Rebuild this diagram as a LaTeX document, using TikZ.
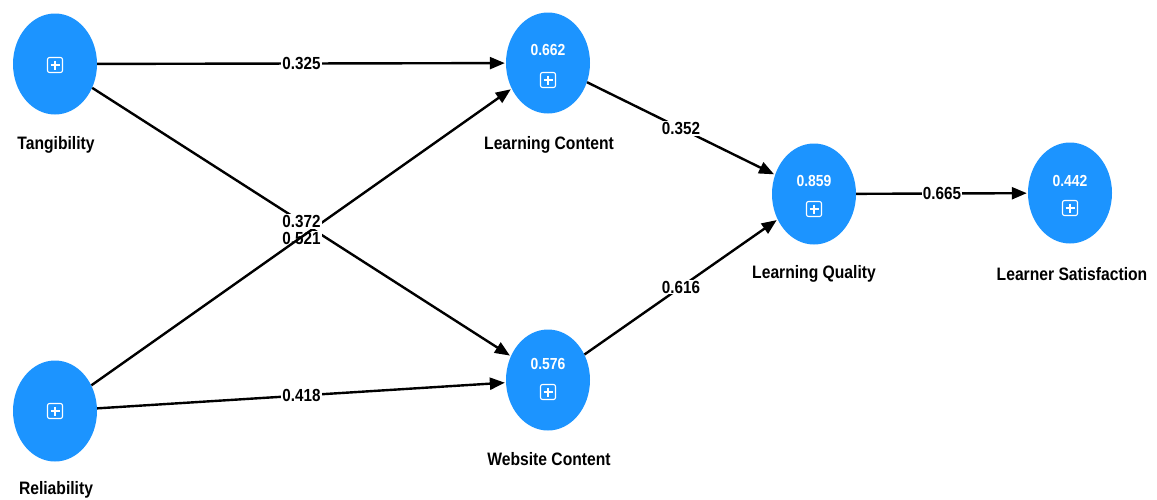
\documentclass[tikz,border=0pt]{standalone}
\usepackage{fontspec}
\setmainfont{Liberation Sans}[FakeStretch=0.87]
\usetikzlibrary{shapes.geometric,arrows.meta}
\definecolor{nodeblue}{RGB}{28,148,255}
\begin{document}
\begin{tikzpicture}[x=1pt,y=-1pt,
  lv/.style={ellipse, fill=nodeblue, minimum width=84pt, minimum height=101pt, inner sep=0pt},
  val/.style={text=white, font=\fontsize{16}{18}\selectfont\bfseries, inner sep=0pt},
  icon/.style={draw=white, line width=1.1pt, rounded corners=2pt, minimum size=15pt, inner sep=0pt,
    path picture={\draw[white,line width=1.1pt,sharp corners]
      ([yshift=-3pt]path picture bounding box.north) -- ([yshift=3pt]path picture bounding box.south)
      ([xshift=3pt]path picture bounding box.west) -- ([xshift=-3pt]path picture bounding box.east);}},
  lvname/.style={font=\fontsize{18}{20}\selectfont\bfseries, text=black, inner sep=0pt},
  conn/.style={line width=2.4pt, black, -{Triangle[length=15pt,width=12pt]}, shorten >=1pt},
  coef/.style={fill=white, font=\fontsize{17.5}{19}\selectfont\bfseries, inner sep=1pt, text=black}]
\useasboundingbox (0,0) rectangle (1157,499);
% latent variables
\node[lv] (T) at (55,64) {};
\node[lv] (R) at (55,411) {};
\node[lv] (LC) at (548,63) {};
\node[lv] (WC) at (548,380) {};
\node[lv] (LQ) at (814,194) {};
\node[lv] (LS) at (1070,193) {};
% contents
\node[icon] (Ti) at (55,65) {};
\node[icon] (Ri) at (55,411) {};
\node[val] (LCv) at (548,50) {0.662};
\node[icon] (LCi) at (548,80) {};
\node[val] (WCv) at (548,364) {0.576};
\node[icon] (WCi) at (548,392) {};
\node[val] (LQv) at (814,181) {0.859};
\node[icon] (LQi) at (814,209) {};
\node[val] (LSv) at (1070,181) {0.442};
\node[icon] (LSi) at (1070,208) {};
% names
\node[lvname] (Tn) at (56,145) {Tangibility};
\node[lvname] (Rn) at (56,490) {Reliability};
\node[lvname] (LCn) at (549,145) {Learning Content};
\node[lvname] (WCn) at (549,459) {Website Content};
\node[lvname] (LQn) at (814,274) {Learning Quality};
\node[lvname] (LSn) at (1072,274) {Learner Satisfaction};
% paths
\draw[conn] (T) -- node[coef] {0.325} (LC);
\draw[conn] (T) -- node[coef, yshift=-16.5pt] {0.521} (WC);
\draw[conn] (R) -- node[coef, yshift=15.5pt] {0.372} (LC);
\draw[conn] (R) -- node[coef] {0.418} (WC);
\draw[conn] (LC) -- node[coef] {0.352} (LQ);
\draw[conn] (WC) -- node[coef] {0.616} (LQ);
\draw[conn] (LQ) -- node[coef] {0.665} (LS);
\end{tikzpicture}
\end{document}
